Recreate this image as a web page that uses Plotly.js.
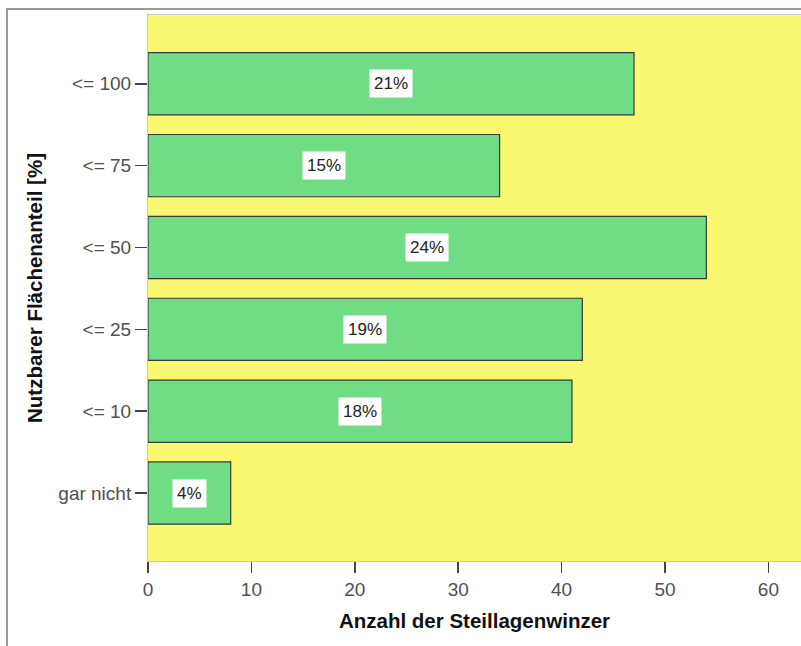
<!DOCTYPE html>
<html><head><meta charset="utf-8">
<script src="https://cdn.plot.ly/plotly-3.0.1.min.js"></script>
<style>
html,body{margin:0;padding:0;background:#fff}
#chart{position:absolute;left:0;top:0;width:801px;height:646px;z-index:1}
.hline{position:absolute;left:6px;top:8px;width:795px;height:2px;background:#999;z-index:10}
.vline{position:absolute;left:6px;top:8px;width:2px;height:638px;background:#999;z-index:10}
</style>
</head><body><div id="chart"></div><div class="hline"></div><div class="vline"></div>
<script>
const categories = ["gar nicht", "<= 10", "<= 25", "<= 50", "<= 75", "<= 100"];
const counts = [8, 41, 42, 54, 34, 47];
const percentLabels = ["4%", "18%", "19%", "24%", "15%", "21%"];

const FONT = 'Liberation Sans, Arial, sans-serif';
const trace = {
  type: 'bar', orientation: 'h',
  y: categories, x: counts,
  marker: {color: '#70dc84', line: {color: '#3a3a3a', width: 1.2}},
  width: 0.76, hoverinfo: 'none'
};
const annotations = counts.map((v, i) => ({
  x: v / 2, y: categories[i], xref: 'x', yref: 'y',
  text: percentLabels[i], showarrow: false,
  bgcolor: '#ffffff', borderpad: 4,
  font: {family: FONT, size: 17, color: '#222'}
}));
const layout = {
  width: 801, height: 646,
  margin: {l: 148, r: 0, t: 15, b: 85},
  paper_bgcolor: 'rgba(0,0,0,0)', plot_bgcolor: '#f9f870',
  font: {family: FONT, size: 19, color: '#505050'},
  showlegend: false,
  xaxis: {
    range: [0, 63.15], tickvals: [0, 10, 20, 30, 40, 50, 60],
    ticks: 'outside', ticklen: 11, tickcolor: '#444', tickwidth: 1.5,
    showgrid: false, zeroline: false,
    showline: true, linecolor: '#c8c8c8', linewidth: 1, mirror: true,
    title: {text: 'Anzahl der Steillagenwinzer', standoff: 14,
            font: {size: 20.5, color: '#111', family: FONT, weight: 'bold'}}
  },
  yaxis: {
    type: 'category', range: [-0.83, 5.84],
    ticks: 'outside', ticklen: 12, tickcolor: '#444', tickwidth: 1.5,
    showgrid: false, zeroline: false,
    showline: true, linecolor: '#c8c8c8', linewidth: 1, mirror: true,
    title: {text: 'Nutzbarer Flächenanteil [%]', standoff: 10,
            font: {size: 20.5, color: '#111', family: FONT, weight: 'bold'}}
  },
  annotations: annotations
};
Plotly.newPlot('chart', [trace], layout, {staticPlot: true});
</script></body></html>
